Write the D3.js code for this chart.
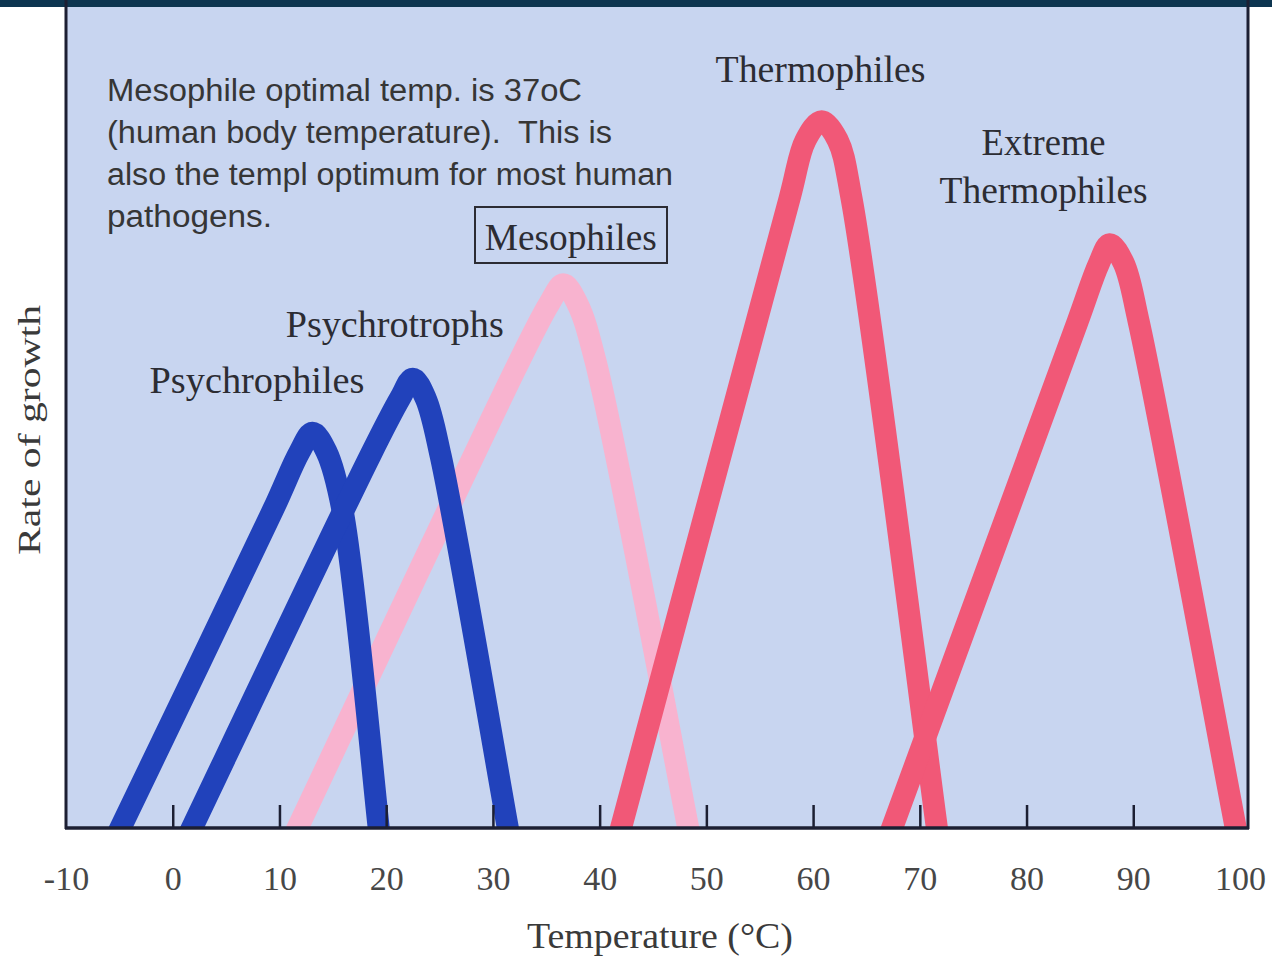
<!DOCTYPE html>
<html>
<head>
<meta charset="utf-8">
<script src="https://cdn.jsdelivr.net/npm/d3@7"></script>
<style>
  html, body { margin: 0; padding: 0; background: #ffffff; }
  svg { display: block; }
</style>
</head>
<body>
<svg id="chart" width="1272" height="957"></svg>
<script>
// ---------------- data ----------------
const tickTemps = [-10, 0, 10, 20, 30, 40, 50, 60, 70, 80, 90, 100];
const seriesNames = ["Mesophiles", "Psychrophiles", "Psychrotrophs", "Thermophiles", "Extreme Thermophiles"];

// temperature (°C) and relative growth rate
const mesophilesTemp = [11.7, 32.5, 35.3, 36.6, 37.9, 39.6, 48.3];
const mesophilesRate = [0, 57.0, 64.0, 66.3, 64.0, 57.0, 0];

const psychrophilesTemp = [-4.9, 9.4, 11.9, 13.1, 14.4, 15.9, 19.3];
const psychrophilesRate = [0, 38.8, 45.9, 48.2, 45.9, 38.8, 0];

const psychrotrophsTemp = [1.8, 18.5, 21.3, 22.5, 23.7, 25.1, 31.4];
const psychrotrophsRate = [0, 45.4, 52.4, 54.8, 52.4, 45.4, 0];

const thermophilesTemp = [42.0, 57.8, 59.3, 60.8, 62.3, 63.6, 71.6];
const thermophilesRate = [0, 76.8, 83.9, 86.2, 83.9, 76.8, 0];

const extremeTemp = [67.4, 84.8, 86.8, 87.8, 89.1, 90.5, 99.6];
const extremeRate = [0, 61.8, 68.9, 71.2, 68.9, 61.8, 0];

const seriesTemps = [mesophilesTemp, psychrophilesTemp, psychrotrophsTemp, thermophilesTemp, extremeTemp];
const seriesRates = [mesophilesRate, psychrophilesRate, psychrotrophsRate, thermophilesRate, extremeRate];
const seriesColors = ["#f8b3cf", "#2142bb", "#2142bb", "#f15877", "#f15877"];

const noteLines = [
  "Mesophile optimal temp. is 37oC",
  "(human body temperature).\u00a0 This is",
  "also the templ optimum for most human",
  "pathogens."
];

// ---------------- layout ----------------
const svg = d3.select("#chart");
const W = 1272, H = 957;
const plotL = 66, plotR = 1248, plotT = 7, plotB = 828;

const x = d3.scaleLinear().domain([-10, 100]).range([66, 1240]);
const y = d3.scaleLinear().domain([0, 100]).range([plotB, 8]);

const serif = "'Liberation Serif', 'Times New Roman', serif";
const sans = "'Liberation Sans', Arial, sans-serif";

// top dark strip
svg.append("rect").attr("x", 0).attr("y", 0).attr("width", W).attr("height", 7).attr("fill", "#0d3550");

// plot background
svg.append("rect").attr("x", plotL).attr("y", plotT).attr("width", plotR - plotL).attr("height", plotB - plotT)
  .attr("fill", "#c8d5f0");

svg.append("clipPath").attr("id", "plotclip")
  .append("rect").attr("x", plotL).attr("y", plotT).attr("width", plotR - plotL).attr("height", plotB - plotT);

// curves
const line = d3.line()
  .x(d => x(d[0]))
  .y(d => y(d[1]))
  .curve(d3.curveCatmullRom.alpha(0.5));

const curvesG = svg.append("g").attr("clip-path", "url(#plotclip)");
seriesNames.forEach((name, i) => {
  const t = seriesTemps[i], r = seriesRates[i];
  let pts = t.map((v, j) => [v, r[j]]);
  // extend the end segments slightly below the axis so the clip cuts them flat
  const n = pts.length;
  const a0 = pts[0], a1 = pts[1];
  const b0 = pts[n - 1], b1 = pts[n - 2];
  const k = 0.08;
  const startExt = [a0[0] - (a1[0] - a0[0]) * k, a0[1] - (a1[1] - a0[1]) * k];
  const endExt = [b0[0] - (b1[0] - b0[0]) * k, b0[1] - (b1[1] - b0[1]) * k];
  pts = [startExt].concat(pts, [endExt]);
  curvesG.append("path")
    .datum(pts)
    .attr("d", line)
    .attr("fill", "none")
    .attr("stroke", seriesColors[i])
    .attr("stroke-width", 22)
    .attr("stroke-linejoin", "round");
});

// frame: left, right
svg.append("line").attr("x1", plotL).attr("x2", plotL).attr("y1", 0).attr("y2", plotB + 1)
  .attr("stroke", "#1c1f33").attr("stroke-width", 3);
svg.append("line").attr("x1", plotR).attr("x2", plotR).attr("y1", 0).attr("y2", plotB + 1)
  .attr("stroke", "#1c1f33").attr("stroke-width", 3);

// x axis
const xAxis = d3.axisBottom(x)
  .tickValues(tickTemps)
  .tickSize(-23)
  .tickPadding(62)
  .tickFormat(d => String(d));
const axG = svg.append("g").attr("transform", `translate(0,${plotB})`).call(xAxis);
axG.select(".domain").remove();
axG.selectAll(".tick line")
  .attr("stroke", "#1c1f33").attr("stroke-width", 2.5)
  .attr("display", d => (d === -10 || d === 100) ? "none" : null);
axG.selectAll(".tick text")
  .attr("font-family", serif).attr("font-size", 34).attr("fill", "#474747")
  .attr("dy", 0);
svg.append("line").attr("x1", plotL - 1).attr("x2", plotR + 1).attr("y1", plotB).attr("y2", plotB)
  .attr("stroke", "#1c1f33").attr("stroke-width", 3.5);

// axis titles
svg.append("text").attr("x", 660).attr("y", 948).attr("text-anchor", "middle")
  .attr("font-family", serif).attr("font-size", 36).attr("fill", "#3a3a3a")
  .attr("textLength", 266).attr("lengthAdjust", "spacingAndGlyphs")
  .text("Temperature (°C)");
svg.append("text").attr("transform", "translate(40,430) rotate(-90)").attr("text-anchor", "middle")
  .attr("font-family", serif).attr("font-size", 31).attr("fill", "#3a3a3a")
  .attr("textLength", 250).attr("lengthAdjust", "spacingAndGlyphs")
  .text("Rate of growth");

// series labels
const labelColor = "#2c2c33";
function serifLabel(txt, tx, rate, width) {
  return svg.append("text").attr("x", x(tx)).attr("y", y(rate)).attr("text-anchor", "middle")
    .attr("font-family", serif).attr("font-size", 38).attr("fill", labelColor)
    .attr("textLength", width).attr("lengthAdjust", "spacingAndGlyphs")
    .text(txt);
}
serifLabel("Thermophiles", 60.7, 91.0, 210);
serifLabel("Extreme", 81.6, 82.1, 124);
serifLabel("Thermophiles", 81.6, 76.2, 208);
serifLabel("Psychrotrophs", 20.8, 59.9, 218);
serifLabel("Psychrophiles", 7.9, 53.0, 215);
serifLabel("Mesophiles", 37.3, 70.5, 172);
// box around Mesophiles
svg.append("rect").attr("x", 475).attr("y", 207).attr("width", 192).attr("height", 56)
  .attr("fill", "none").attr("stroke", "#2c2c33").attr("stroke-width", 2);

// annotation note
const noteWidths = [475, 505, 566, 165];
const noteG = svg.append("g");
noteLines.forEach((t, i) => {
  noteG.append("text").attr("x", 107).attr("y", 101 + i * 42)
    .attr("font-family", sans).attr("font-size", 31).attr("fill", "#363636")
    .attr("textLength", noteWidths[i]).attr("lengthAdjust", "spacingAndGlyphs")
    .text(t);
});
</script>
</body>
</html>
